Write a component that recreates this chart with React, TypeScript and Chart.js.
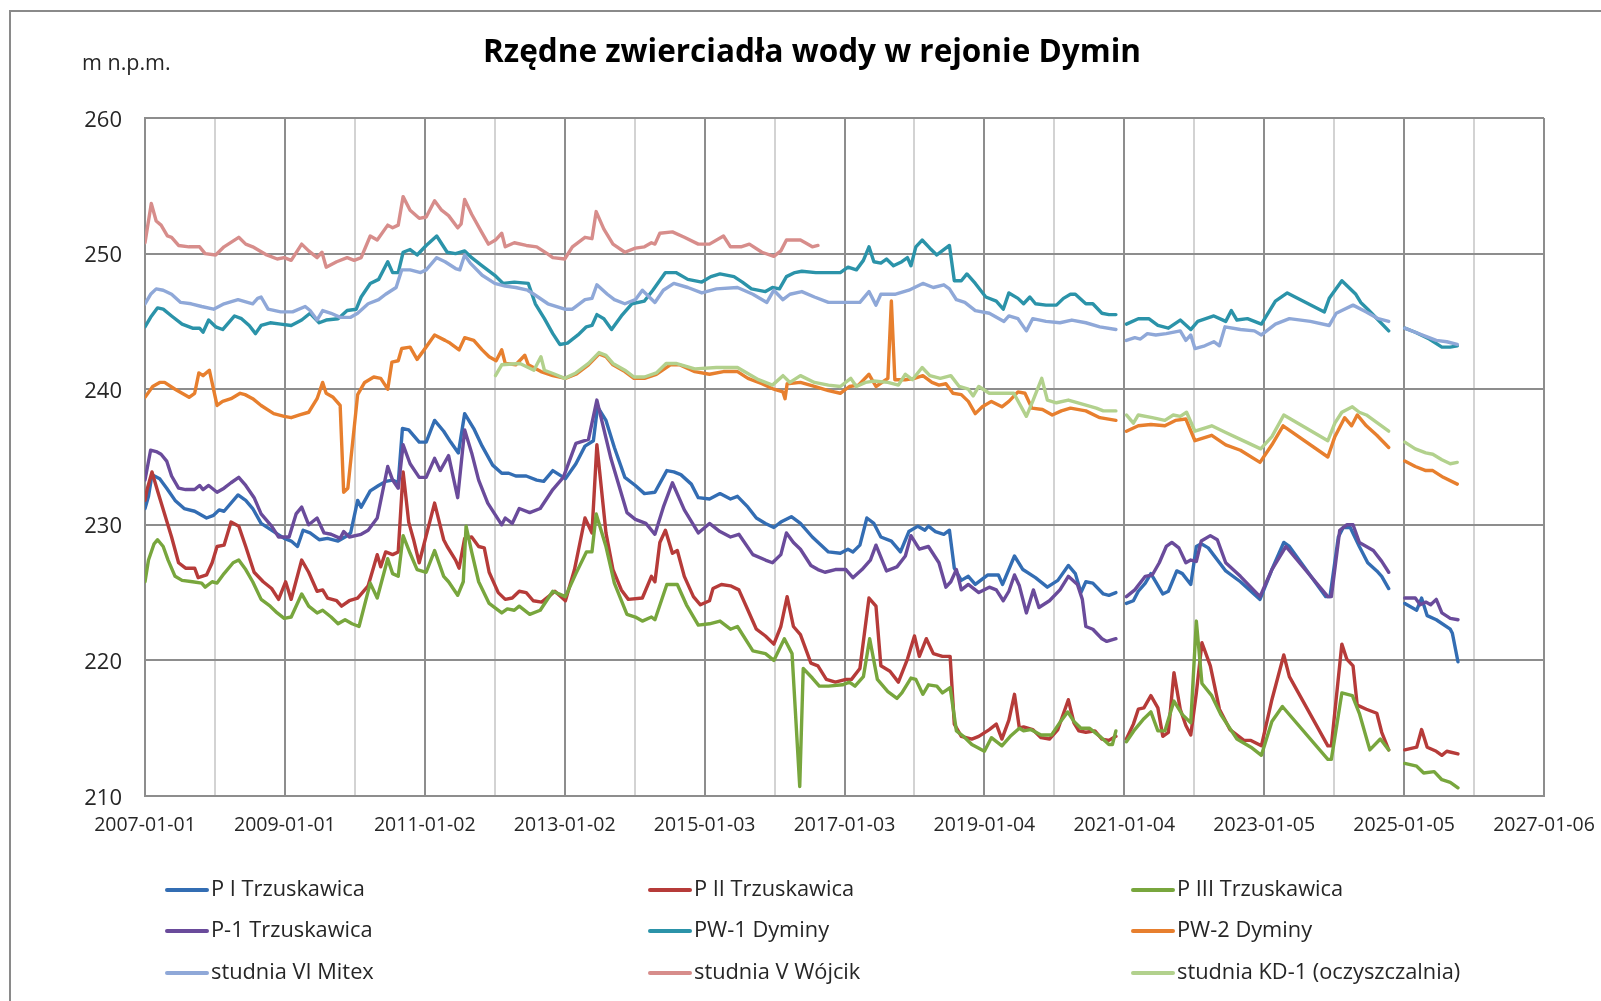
import React, { useEffect, useRef } from 'react';
import { Chart, registerables } from 'chart.js';

Chart.register(...registerables);

const TITLE = 'Rzędne zwierciadła wody w rejonie Dymin';
const Y_UNIT = 'm n.p.m.';
const Y_MIN = 210;
const Y_MAX = 260;
const Y_STEP = 10;
const Y_TICKS = [210, 220, 230, 240, 250, 260];
// x axis: days since 2007-01-01, major every 731 days, minor every 365.5 days
const X_TICK_DAYS = Array.from({ length: 21 }, (_, i) => i * 365.5);

const SERIES_NAMES = [
  'P I Trzuskawica',
  'P II Trzuskawica',
  'P III Trzuskawica',
  'P-1 Trzuskawica',
  'PW-1 Dyminy',
  'PW-2 Dyminy',
  'studnia VI Mitex',
  'studnia V Wójcik',
  'studnia KD-1 (oczyszczalnia)',
];

const SERIES_COLORS = [
  '#336db3',
  '#b63b39',
  '#78a63d',
  '#6a4b9b',
  '#2b93a9',
  '#e77f2e',
  '#8fa8d8',
  '#d78d8b',
  '#b2d18d',
];

// [decimal year, water level m n.p.m.]; null = gap in measurements
const P_I_TRZUSKAWICA: [number, number | null][] = [
  [2007.0, 231.2], [2007.05, 232.1], [2007.1, 233.7], [2007.21, 233.4], [2007.31, 232.7], [2007.43, 231.8],
  [2007.56, 231.2], [2007.71, 231.0], [2007.88, 230.5], [2007.98, 230.7], [2008.06, 231.1], [2008.13, 231.0],
  [2008.33, 232.2], [2008.44, 231.8], [2008.54, 231.2], [2008.66, 230.1], [2008.84, 229.5], [2008.99, 229.0],
  [2009.09, 228.8], [2009.18, 228.4], [2009.26, 229.6], [2009.36, 229.4], [2009.49, 228.9], [2009.61, 229.0],
  [2009.76, 228.8], [2009.86, 229.1], [2009.94, 229.4], [2010.04, 231.8], [2010.09, 231.3], [2010.22, 232.5],
  [2010.34, 232.9], [2010.44, 233.2], [2010.54, 233.3], [2010.62, 233.1], [2010.68, 237.1], [2010.77, 237.0],
  [2010.92, 236.1], [2011.02, 236.1], [2011.14, 237.7], [2011.27, 236.9], [2011.37, 236.1], [2011.48, 235.3],
  [2011.57, 238.2], [2011.7, 237.1], [2011.82, 235.8], [2011.97, 234.4], [2012.1, 233.8], [2012.2, 233.8],
  [2012.3, 233.6], [2012.45, 233.6], [2012.6, 233.3], [2012.7, 233.2], [2012.83, 234.0], [2013.01, 233.4],
  [2013.16, 234.5], [2013.29, 235.8], [2013.41, 236.2], [2013.47, 238.7], [2013.59, 237.7], [2013.71, 235.7],
  [2013.86, 233.5], [2014.01, 232.9], [2014.14, 232.3], [2014.29, 232.4], [2014.46, 234.0], [2014.56, 233.9],
  [2014.66, 233.7], [2014.81, 233.0], [2014.91, 232.0], [2015.07, 231.9], [2015.22, 232.3], [2015.37, 231.9],
  [2015.47, 232.1], [2015.62, 231.3], [2015.74, 230.5], [2015.87, 230.1], [2015.99, 229.8], [2016.09, 230.2],
  [2016.24, 230.6], [2016.37, 230.1], [2016.54, 229.1], [2016.77, 228.0], [2016.94, 227.9], [2017.05, 228.2],
  [2017.12, 228.0], [2017.22, 228.5], [2017.32, 230.5], [2017.42, 230.1], [2017.52, 229.1], [2017.67, 228.8],
  [2017.8, 228.0], [2017.92, 229.5], [2018.05, 229.9], [2018.15, 229.6], [2018.2, 229.9], [2018.3, 229.5],
  [2018.42, 229.3], [2018.5, 229.6], [2018.57, 226.8], [2018.67, 225.9], [2018.77, 226.2], [2018.87, 225.6],
  [2019.05, 226.3], [2019.2, 226.3], [2019.26, 225.6], [2019.43, 227.7], [2019.55, 226.7], [2019.73, 226.1],
  [2019.9, 225.4], [2020.05, 225.9], [2020.2, 227.0], [2020.3, 226.4], [2020.38, 225.0], [2020.45, 225.8],
  [2020.55, 225.7], [2020.7, 224.9], [2020.78, 224.8], [2020.88, 225.0], [2020.95, null],
  [2021.03, 224.2], [2021.13, 224.4], [2021.2, 225.1], [2021.3, 225.7], [2021.38, 226.4], [2021.45, 225.8],
  [2021.55, 224.9], [2021.63, 225.1], [2021.75, 226.6], [2021.83, 226.4], [2021.95, 225.6], [2022.03, 228.4],
  [2022.1, 228.6], [2022.2, 228.3], [2022.45, 226.6], [2022.66, 225.8], [2022.94, 224.5], [2023.11, 226.7],
  [2023.28, 228.7], [2023.36, 228.4], [2023.88, 224.7], [2023.94, 224.7], [2024.06, 229.1], [2024.13, 229.8],
  [2024.23, 229.8], [2024.36, 228.4], [2024.48, 227.2], [2024.61, 226.6], [2024.68, 226.2], [2024.78, 225.3],
  [2024.9, null],
  [2025.01, 224.2], [2025.18, 223.7], [2025.25, 224.6], [2025.33, 223.3], [2025.46, 223.0], [2025.66, 222.3],
  [2025.69, 222.0], [2025.77, 219.9],
];

const P_II_TRZUSKAWICA: [number, number | null][] = [
  [2007.0, 231.8], [2007.03, 232.6], [2007.1, 233.9], [2007.18, 232.5], [2007.28, 230.8], [2007.38, 229.1],
  [2007.48, 227.2], [2007.58, 226.8], [2007.71, 226.8], [2007.76, 226.1], [2007.88, 226.3], [2007.96, 227.2],
  [2008.03, 228.4], [2008.13, 228.5], [2008.23, 230.2], [2008.34, 229.9], [2008.44, 228.4], [2008.56, 226.5],
  [2008.69, 225.8], [2008.81, 225.3], [2008.91, 224.5], [2009.01, 225.8], [2009.09, 224.5], [2009.24, 227.4],
  [2009.34, 226.5], [2009.46, 225.1], [2009.54, 225.2], [2009.61, 224.6], [2009.74, 224.4], [2009.81, 224.0],
  [2009.92, 224.4], [2010.04, 224.6], [2010.19, 225.5], [2010.27, 226.9], [2010.32, 227.8], [2010.37, 226.9],
  [2010.44, 228.0], [2010.54, 227.8], [2010.62, 228.0], [2010.69, 233.9], [2010.77, 230.2], [2010.84, 228.9],
  [2010.92, 227.2], [2010.99, 228.6], [2011.14, 231.6], [2011.27, 228.9], [2011.32, 228.4], [2011.44, 227.4],
  [2011.49, 226.8], [2011.57, 229.0], [2011.67, 229.1], [2011.77, 228.4], [2011.85, 228.3], [2011.92, 226.5],
  [2012.05, 225.0], [2012.15, 224.5], [2012.25, 224.6], [2012.35, 225.1], [2012.45, 225.0], [2012.55, 224.4],
  [2012.67, 224.3], [2012.79, 224.8], [2012.86, 225.1], [2013.01, 224.4], [2013.14, 226.7], [2013.29, 230.5],
  [2013.39, 229.4], [2013.46, 235.9], [2013.59, 229.4], [2013.69, 226.7], [2013.81, 225.2], [2013.91, 224.5],
  [2014.11, 224.6], [2014.24, 226.2], [2014.29, 225.8], [2014.36, 228.7], [2014.44, 229.6], [2014.54, 227.9],
  [2014.61, 228.1], [2014.71, 226.2], [2014.84, 224.7], [2014.94, 224.1], [2015.07, 224.4], [2015.12, 225.3],
  [2015.24, 225.6], [2015.37, 225.5], [2015.49, 225.2], [2015.62, 223.7], [2015.74, 222.3], [2015.87, 221.8],
  [2015.99, 221.2], [2016.09, 222.5], [2016.18, 224.7], [2016.27, 222.5], [2016.37, 221.9], [2016.52, 219.8],
  [2016.62, 219.6], [2016.74, 218.6], [2016.87, 218.4], [2017.02, 218.6], [2017.1, 218.6], [2017.22, 219.4],
  [2017.35, 224.6], [2017.45, 224.0], [2017.52, 219.6], [2017.65, 219.2], [2017.77, 218.4], [2017.9, 220.1],
  [2018.0, 221.8], [2018.07, 220.3], [2018.17, 221.6], [2018.27, 220.5], [2018.4, 220.3], [2018.51, 220.3],
  [2018.57, 215.3], [2018.67, 214.4], [2018.82, 214.2], [2018.92, 214.4], [2019.07, 214.9], [2019.17, 215.3],
  [2019.25, 214.2], [2019.35, 215.6], [2019.43, 217.5], [2019.5, 215.0], [2019.56, 215.1], [2019.69, 214.9],
  [2019.81, 214.3], [2019.93, 214.2], [2020.05, 214.9], [2020.2, 217.1], [2020.28, 215.4], [2020.35, 214.8],
  [2020.45, 214.7], [2020.58, 214.8], [2020.68, 214.2], [2020.78, 214.1], [2020.88, 214.4], [2020.95, null],
  [2021.03, 214.2], [2021.13, 215.3], [2021.2, 216.4], [2021.28, 216.5], [2021.38, 217.4], [2021.48, 216.5],
  [2021.55, 214.4], [2021.63, 214.7], [2021.71, 219.1], [2021.8, 216.4], [2021.88, 215.2], [2021.95, 214.5],
  [2022.03, 217.6], [2022.11, 221.3], [2022.23, 219.6], [2022.36, 216.4], [2022.51, 214.9], [2022.71, 214.1],
  [2022.81, 214.1], [2022.96, 213.7], [2023.11, 217.1], [2023.28, 220.4], [2023.36, 218.8], [2023.91, 213.7],
  [2023.96, 213.7], [2024.11, 221.2], [2024.18, 220.1], [2024.27, 219.6], [2024.33, 216.7], [2024.46, 216.4],
  [2024.61, 216.1], [2024.68, 214.7], [2024.78, 213.4], [2024.9, null],
  [2025.01, 213.4], [2025.18, 213.6], [2025.25, 214.9], [2025.33, 213.6], [2025.46, 213.3], [2025.54, 213.0],
  [2025.61, 213.3], [2025.77, 213.1],
];

const P_III_TRZUSKAWICA: [number, number | null][] = [
  [2007.0, 225.8], [2007.05, 227.4], [2007.13, 228.6], [2007.18, 228.9], [2007.26, 228.4], [2007.33, 227.4],
  [2007.43, 226.2], [2007.53, 225.9], [2007.68, 225.8], [2007.81, 225.7], [2007.86, 225.4], [2007.96, 225.8],
  [2008.03, 225.7], [2008.13, 226.4], [2008.26, 227.2], [2008.34, 227.4], [2008.44, 226.7], [2008.54, 225.8],
  [2008.66, 224.5], [2008.79, 224.0], [2008.89, 223.5], [2008.99, 223.1], [2009.09, 223.2], [2009.24, 224.9],
  [2009.34, 224.0], [2009.46, 223.5], [2009.54, 223.7], [2009.66, 223.2], [2009.76, 222.7], [2009.86, 223.0],
  [2009.96, 222.7], [2010.06, 222.5], [2010.22, 225.7], [2010.32, 224.6], [2010.47, 227.5], [2010.54, 226.4],
  [2010.62, 226.2], [2010.69, 229.2], [2010.79, 227.9], [2010.89, 226.7], [2011.02, 226.5], [2011.14, 228.1],
  [2011.27, 226.2], [2011.34, 225.8], [2011.47, 224.8], [2011.55, 225.8], [2011.59, 229.9], [2011.67, 228.0],
  [2011.77, 225.8], [2011.92, 224.2], [2012.1, 223.5], [2012.18, 223.8], [2012.28, 223.7], [2012.35, 224.0],
  [2012.5, 223.4], [2012.65, 223.7], [2012.83, 225.1], [2013.01, 224.7], [2013.16, 226.4], [2013.31, 228.0],
  [2013.39, 228.0], [2013.45, 230.8], [2013.59, 228.4], [2013.71, 225.7], [2013.89, 223.4], [2014.01, 223.2],
  [2014.11, 222.9], [2014.24, 223.2], [2014.29, 223.0], [2014.46, 225.6], [2014.61, 225.6], [2014.74, 224.1],
  [2014.91, 222.6], [2015.07, 222.7], [2015.22, 222.9], [2015.37, 222.3], [2015.47, 222.5], [2015.69, 220.7],
  [2015.87, 220.5], [2015.99, 220.0], [2016.14, 221.6], [2016.25, 220.5], [2016.36, 210.7], [2016.41, 219.4],
  [2016.54, 218.7], [2016.64, 218.1], [2016.77, 218.1], [2016.97, 218.2], [2017.07, 218.4], [2017.15, 218.1],
  [2017.27, 218.8], [2017.36, 221.6], [2017.47, 218.6], [2017.62, 217.7], [2017.75, 217.2], [2017.82, 217.6],
  [2017.95, 218.7], [2018.02, 218.6], [2018.12, 217.5], [2018.2, 218.2], [2018.32, 218.1], [2018.4, 217.6],
  [2018.51, 218.0], [2018.6, 214.8], [2018.7, 214.4], [2018.82, 213.8], [2019.0, 213.3], [2019.1, 214.3],
  [2019.25, 213.7], [2019.37, 214.4], [2019.5, 215.0], [2019.56, 214.8], [2019.66, 214.9], [2019.81, 214.5],
  [2019.96, 214.5], [2020.09, 215.5], [2020.19, 216.2], [2020.28, 215.5], [2020.38, 215.0], [2020.5, 215.0],
  [2020.65, 214.4], [2020.78, 213.8], [2020.83, 213.8], [2020.88, 214.8], [2020.95, null],
  [2021.03, 214.0], [2021.15, 214.9], [2021.28, 215.7], [2021.38, 216.2], [2021.48, 214.8], [2021.58, 214.8],
  [2021.71, 217.0], [2021.83, 216.0], [2021.95, 215.4], [2022.03, 222.9], [2022.11, 218.3], [2022.25, 217.4],
  [2022.38, 216.0], [2022.61, 214.2], [2022.81, 213.6], [2022.96, 213.0], [2023.11, 215.5], [2023.26, 216.6],
  [2023.91, 212.7], [2023.96, 212.7], [2024.11, 217.6], [2024.26, 217.4], [2024.36, 216.1], [2024.51, 213.4],
  [2024.66, 214.2], [2024.78, 213.4], [2024.9, null],
  [2025.01, 212.4], [2025.18, 212.2], [2025.28, 211.7], [2025.43, 211.8], [2025.54, 211.2], [2025.66, 211.0],
  [2025.77, 210.6],
];

const P_1_TRZUSKAWICA: [number, number | null][] = [
  [2007.0, 233.3], [2007.08, 235.5], [2007.16, 235.4], [2007.23, 235.2], [2007.31, 234.7], [2007.38, 233.6],
  [2007.48, 232.7], [2007.58, 232.6], [2007.71, 232.6], [2007.78, 232.9], [2007.83, 232.6], [2007.91, 232.9],
  [2008.03, 232.4], [2008.13, 232.7], [2008.23, 233.1], [2008.34, 233.5], [2008.44, 232.9], [2008.56, 232.0],
  [2008.66, 230.8], [2008.81, 229.9], [2008.91, 229.1], [2009.06, 229.1], [2009.16, 230.8], [2009.24, 231.3],
  [2009.34, 230.0], [2009.46, 230.5], [2009.56, 229.4], [2009.66, 229.3], [2009.79, 229.0], [2009.84, 229.5],
  [2009.92, 229.1], [2010.09, 229.3], [2010.19, 229.6], [2010.32, 230.5], [2010.47, 234.3], [2010.54, 233.3],
  [2010.62, 232.7], [2010.69, 235.9], [2010.79, 234.5], [2010.92, 233.5], [2011.02, 233.5], [2011.14, 234.9],
  [2011.22, 234.0], [2011.34, 235.1], [2011.47, 232.0], [2011.57, 237.0], [2011.67, 235.3], [2011.77, 233.3],
  [2011.9, 231.6], [2012.1, 230.0], [2012.15, 230.5], [2012.25, 230.1], [2012.35, 231.2], [2012.5, 230.9],
  [2012.65, 231.2], [2012.83, 232.6], [2012.98, 233.5], [2013.16, 236.0], [2013.34, 236.3], [2013.46, 239.2],
  [2013.66, 234.9], [2013.89, 230.9], [2014.01, 230.4], [2014.16, 230.1], [2014.29, 229.3], [2014.41, 231.3],
  [2014.54, 233.1], [2014.71, 231.1], [2014.91, 229.4], [2015.07, 230.1], [2015.22, 229.5], [2015.37, 229.1],
  [2015.49, 229.3], [2015.69, 227.8], [2015.87, 227.4], [2015.97, 227.2], [2016.09, 227.8], [2016.17, 229.4],
  [2016.27, 228.7], [2016.37, 228.2], [2016.52, 227.0], [2016.62, 226.7], [2016.72, 226.5], [2016.87, 226.7],
  [2017.02, 226.7], [2017.12, 226.1], [2017.25, 226.7], [2017.37, 227.4], [2017.45, 228.5], [2017.6, 226.6],
  [2017.75, 226.9], [2017.87, 227.7], [2017.95, 229.2], [2018.07, 228.2], [2018.2, 228.4], [2018.35, 227.2],
  [2018.45, 225.4], [2018.52, 225.8], [2018.6, 226.7], [2018.67, 225.2], [2018.77, 225.6], [2018.92, 225.0],
  [2019.07, 225.4], [2019.17, 225.2], [2019.27, 224.4], [2019.35, 225.1], [2019.43, 226.3], [2019.5, 225.5],
  [2019.6, 223.5], [2019.7, 225.2], [2019.78, 223.9], [2019.93, 224.4], [2020.08, 225.2], [2020.2, 226.2],
  [2020.33, 225.6], [2020.4, 224.5], [2020.45, 222.5], [2020.55, 222.3], [2020.68, 221.6], [2020.75, 221.4],
  [2020.88, 221.6], [2020.95, null],
  [2021.03, 224.7], [2021.15, 225.2], [2021.3, 226.2], [2021.4, 226.3], [2021.5, 227.2], [2021.6, 228.4],
  [2021.68, 228.7], [2021.78, 228.3], [2021.88, 227.2], [2021.95, 227.4], [2022.03, 227.3], [2022.1, 228.8],
  [2022.23, 229.2], [2022.33, 228.9], [2022.45, 227.2], [2022.66, 226.2], [2022.94, 224.7], [2023.11, 226.7],
  [2023.31, 228.4], [2023.91, 224.7], [2023.96, 224.7], [2024.08, 229.6], [2024.18, 230.0], [2024.27, 230.0],
  [2024.36, 228.7], [2024.46, 228.4], [2024.56, 228.1], [2024.68, 227.3], [2024.78, 226.5], [2024.9, null],
  [2025.01, 224.6], [2025.16, 224.6], [2025.23, 224.1], [2025.31, 224.3], [2025.38, 224.1], [2025.46, 224.5],
  [2025.54, 223.5], [2025.66, 223.1], [2025.77, 223.0],
];

const PW_1_DYMINY: [number, number | null][] = [
  [2007.0, 244.6], [2007.08, 245.3], [2007.18, 246.0], [2007.26, 245.9], [2007.38, 245.4], [2007.53, 244.8],
  [2007.68, 244.5], [2007.78, 244.5], [2007.83, 244.2], [2007.91, 245.1], [2008.01, 244.6], [2008.11, 244.4],
  [2008.28, 245.4], [2008.38, 245.2], [2008.49, 244.7], [2008.58, 244.1], [2008.66, 244.7], [2008.79, 244.9],
  [2008.94, 244.8], [2009.09, 244.7], [2009.24, 245.1], [2009.36, 245.6], [2009.49, 244.9], [2009.59, 245.1],
  [2009.76, 245.2], [2009.89, 245.8], [2010.02, 245.9], [2010.09, 246.8], [2010.22, 247.8], [2010.34, 248.1],
  [2010.47, 249.4], [2010.54, 248.6], [2010.62, 248.6], [2010.69, 250.1], [2010.79, 250.3], [2010.89, 249.9],
  [2011.02, 250.6], [2011.17, 251.3], [2011.32, 250.1], [2011.44, 250.0], [2011.57, 250.2], [2011.67, 249.7],
  [2011.82, 249.1], [2012.0, 248.4], [2012.12, 247.8], [2012.28, 247.9], [2012.48, 247.8], [2012.58, 246.3],
  [2012.71, 245.2], [2012.83, 244.1], [2012.93, 243.3], [2013.04, 243.4], [2013.19, 244.0], [2013.31, 244.6],
  [2013.39, 244.7], [2013.46, 245.5], [2013.56, 245.2], [2013.67, 244.4], [2013.81, 245.4], [2013.96, 246.3],
  [2014.14, 246.5], [2014.26, 247.3], [2014.44, 248.6], [2014.59, 248.6], [2014.76, 248.1], [2014.96, 247.9],
  [2015.09, 248.3], [2015.22, 248.5], [2015.42, 248.3], [2015.54, 247.9], [2015.67, 247.4], [2015.87, 247.2],
  [2015.97, 247.5], [2016.07, 247.4], [2016.17, 248.3], [2016.29, 248.6], [2016.39, 248.7], [2016.59, 248.6],
  [2016.79, 248.6], [2016.94, 248.6], [2017.05, 249.0], [2017.17, 248.8], [2017.27, 249.5], [2017.35, 250.5],
  [2017.42, 249.4], [2017.52, 249.3], [2017.6, 249.6], [2017.7, 249.1], [2017.82, 249.4], [2017.9, 249.7],
  [2017.95, 249.1], [2018.02, 250.5], [2018.11, 251.0], [2018.22, 250.4], [2018.32, 249.9], [2018.5, 250.6],
  [2018.57, 248.0], [2018.67, 248.0], [2018.75, 248.5], [2018.87, 247.8], [2019.02, 246.8], [2019.17, 246.5],
  [2019.27, 245.9], [2019.35, 247.1], [2019.48, 246.7], [2019.56, 246.3], [2019.65, 246.8], [2019.73, 246.3],
  [2019.88, 246.2], [2020.03, 246.2], [2020.13, 246.7], [2020.23, 247.0], [2020.3, 247.0], [2020.45, 246.3],
  [2020.55, 246.3], [2020.68, 245.6], [2020.78, 245.5], [2020.88, 245.5], [2020.95, null],
  [2021.03, 244.8], [2021.2, 245.2], [2021.35, 245.2], [2021.48, 244.7], [2021.63, 244.5], [2021.8, 245.1],
  [2021.95, 244.4], [2022.05, 245.0], [2022.28, 245.4], [2022.45, 245.0], [2022.53, 245.8], [2022.61, 245.1],
  [2022.76, 245.2], [2022.96, 244.8], [2023.16, 246.5], [2023.33, 247.1], [2023.86, 245.7], [2023.93, 246.7],
  [2024.11, 248.0], [2024.31, 247.0], [2024.38, 246.4], [2024.48, 245.9], [2024.63, 245.1], [2024.78, 244.3],
  [2024.9, null],
  [2025.01, 244.5], [2025.16, 244.2], [2025.36, 243.7], [2025.54, 243.1], [2025.66, 243.1], [2025.76, 243.2],
];

const PW_2_DYMINY: [number, number | null][] = [
  [2007.0, 239.4], [2007.11, 240.2], [2007.21, 240.5], [2007.28, 240.5], [2007.43, 240.0], [2007.53, 239.7],
  [2007.63, 239.4], [2007.71, 239.7], [2007.77, 241.2], [2007.83, 241.0], [2007.92, 241.4], [2008.03, 238.8],
  [2008.11, 239.1], [2008.23, 239.3], [2008.36, 239.7], [2008.43, 239.6], [2008.54, 239.3], [2008.66, 238.8],
  [2008.84, 238.2], [2008.99, 238.0], [2009.09, 237.9], [2009.21, 238.1], [2009.34, 238.3], [2009.46, 239.3],
  [2009.54, 240.5], [2009.59, 239.7], [2009.69, 239.4], [2009.79, 238.8], [2009.84, 232.4], [2009.9, 232.7],
  [2010.04, 239.6], [2010.14, 240.5], [2010.27, 240.9], [2010.37, 240.8], [2010.47, 240.0], [2010.53, 242.0],
  [2010.62, 242.1], [2010.67, 243.0], [2010.79, 243.1], [2010.89, 242.2], [2010.99, 242.9], [2011.14, 244.0],
  [2011.29, 243.6], [2011.36, 243.4], [2011.49, 242.9], [2011.57, 243.8], [2011.7, 243.6], [2011.82, 242.9],
  [2011.92, 242.4], [2012.02, 242.1], [2012.1, 242.9], [2012.15, 241.9], [2012.3, 241.8], [2012.43, 242.5],
  [2012.48, 241.8], [2012.66, 241.3], [2012.83, 241.0], [2013.01, 240.8], [2013.16, 241.1], [2013.34, 241.8],
  [2013.49, 242.6], [2013.59, 242.4], [2013.69, 241.8], [2013.86, 241.3], [2013.99, 240.8], [2014.14, 240.8],
  [2014.31, 241.1], [2014.51, 241.8], [2014.64, 241.8], [2014.86, 241.3], [2015.07, 241.1], [2015.27, 241.3],
  [2015.47, 241.3], [2015.62, 240.8], [2015.82, 240.4], [2015.99, 240.0], [2016.12, 239.8], [2016.15, 239.3],
  [2016.18, 240.4], [2016.37, 240.5], [2016.57, 240.2], [2016.77, 239.9], [2016.94, 239.7], [2017.07, 240.2],
  [2017.2, 240.3], [2017.35, 241.1], [2017.45, 240.2], [2017.62, 240.8], [2017.67, 246.5], [2017.72, 240.7],
  [2017.87, 240.7], [2018.0, 240.8], [2018.12, 241.0], [2018.25, 240.5], [2018.35, 240.3], [2018.45, 240.4],
  [2018.55, 239.7], [2018.67, 239.6], [2018.77, 239.1], [2018.87, 238.2], [2018.97, 238.7], [2019.1, 239.1],
  [2019.25, 238.7], [2019.35, 239.1], [2019.48, 239.8], [2019.58, 239.7], [2019.68, 238.6], [2019.83, 238.5],
  [2019.97, 238.1], [2020.1, 238.4], [2020.23, 238.6], [2020.45, 238.4], [2020.65, 237.9], [2020.88, 237.7],
  [2020.95, null],
  [2021.03, 236.9], [2021.2, 237.3], [2021.38, 237.4], [2021.58, 237.3], [2021.73, 237.7], [2021.88, 237.8],
  [2022.01, 236.2], [2022.25, 236.6], [2022.45, 235.9], [2022.66, 235.5], [2022.94, 234.6], [2023.11, 235.9],
  [2023.27, 237.3], [2023.91, 235.0], [2024.01, 236.5], [2024.15, 237.9], [2024.25, 237.3], [2024.33, 238.1],
  [2024.46, 237.3], [2024.61, 236.6], [2024.78, 235.7], [2024.9, null],
  [2025.01, 234.7], [2025.16, 234.3], [2025.31, 234.0], [2025.41, 234.0], [2025.56, 233.5], [2025.76, 233.0],
];

const STUDNIA_VI_MITEX: [number, number | null][] = [
  [2007.0, 246.3], [2007.08, 247.0], [2007.16, 247.4], [2007.26, 247.3], [2007.38, 247.0], [2007.51, 246.4],
  [2007.66, 246.3], [2007.81, 246.1], [2007.98, 245.9], [2008.13, 246.3], [2008.33, 246.6], [2008.54, 246.3],
  [2008.61, 246.7], [2008.66, 246.8], [2008.76, 245.9], [2008.94, 245.7], [2009.11, 245.7], [2009.29, 246.1],
  [2009.36, 245.8], [2009.46, 245.1], [2009.54, 245.8], [2009.66, 245.6], [2009.79, 245.3], [2009.94, 245.3],
  [2010.04, 245.6], [2010.19, 246.3], [2010.34, 246.6], [2010.44, 247.0], [2010.59, 247.5], [2010.67, 248.8],
  [2010.79, 248.8], [2010.94, 248.6], [2011.02, 248.8], [2011.17, 249.7], [2011.29, 249.4], [2011.44, 248.9],
  [2011.5, 248.8], [2011.57, 249.9], [2011.65, 249.3], [2011.82, 248.4], [2012.0, 247.8], [2012.15, 247.6],
  [2012.3, 247.5], [2012.47, 247.3], [2012.56, 247.0], [2012.76, 246.3], [2013.0, 245.9], [2013.11, 245.9],
  [2013.29, 246.6], [2013.39, 246.7], [2013.46, 247.7], [2013.61, 247.0], [2013.71, 246.6], [2013.86, 246.3],
  [2014.01, 246.6], [2014.11, 247.3], [2014.29, 246.4], [2014.41, 247.3], [2014.56, 247.8], [2014.76, 247.5],
  [2014.96, 247.1], [2015.17, 247.4], [2015.47, 247.5], [2015.69, 247.0], [2015.89, 246.4], [2015.99, 247.3],
  [2016.12, 246.6], [2016.22, 247.0], [2016.39, 247.2], [2016.57, 246.8], [2016.77, 246.4], [2017.02, 246.4],
  [2017.22, 246.4], [2017.35, 247.2], [2017.45, 246.2], [2017.52, 247.0], [2017.72, 247.0], [2017.92, 247.3],
  [2018.12, 247.8], [2018.27, 247.5], [2018.42, 247.7], [2018.5, 247.4], [2018.6, 246.6], [2018.72, 246.4],
  [2018.87, 245.8], [2019.07, 245.6], [2019.28, 245.0], [2019.35, 245.4], [2019.48, 245.2], [2019.6, 244.3],
  [2019.69, 245.2], [2019.88, 245.0], [2020.08, 244.9], [2020.25, 245.1], [2020.45, 244.9], [2020.65, 244.6],
  [2020.88, 244.4], [2020.95, null],
  [2021.03, 243.6], [2021.15, 243.8], [2021.23, 243.7], [2021.33, 244.1], [2021.45, 244.0], [2021.6, 244.1],
  [2021.8, 244.3], [2021.88, 243.6], [2021.95, 244.0], [2022.01, 243.0], [2022.15, 243.2], [2022.28, 243.5],
  [2022.36, 243.2], [2022.44, 244.6], [2022.66, 244.4], [2022.86, 244.3], [2022.96, 244.0], [2023.16, 244.8],
  [2023.36, 245.2], [2023.66, 245.0], [2023.93, 244.7], [2024.03, 245.6], [2024.11, 245.8], [2024.27, 246.2],
  [2024.46, 245.7], [2024.63, 245.2], [2024.78, 245.0], [2024.9, null],
  [2025.01, 244.5], [2025.16, 244.2], [2025.31, 243.9], [2025.46, 243.6], [2025.61, 243.5], [2025.76, 243.3],
];

const STUDNIA_V_WOJCIK: [number, number | null][] = [
  [2007.0, 250.8], [2007.09, 253.7], [2007.16, 252.4], [2007.23, 252.1], [2007.32, 251.3], [2007.38, 251.2],
  [2007.48, 250.6], [2007.63, 250.5], [2007.78, 250.5], [2007.86, 250.0], [2008.01, 249.9], [2008.13, 250.5],
  [2008.34, 251.2], [2008.44, 250.7], [2008.54, 250.5], [2008.74, 249.9], [2008.89, 249.6], [2008.99, 249.7],
  [2009.09, 249.5], [2009.24, 250.7], [2009.34, 250.2], [2009.46, 249.7], [2009.53, 250.1], [2009.59, 249.0],
  [2009.74, 249.4], [2009.89, 249.7], [2009.99, 249.5], [2010.09, 249.7], [2010.22, 251.3], [2010.32, 251.0],
  [2010.47, 252.1], [2010.54, 251.9], [2010.62, 252.1], [2010.69, 254.2], [2010.79, 253.2], [2010.92, 252.6],
  [2011.02, 252.7], [2011.14, 253.9], [2011.24, 253.2], [2011.34, 252.8], [2011.47, 251.9], [2011.52, 252.2],
  [2011.57, 254.0], [2011.67, 252.9], [2011.8, 251.7], [2011.91, 250.7], [2012.01, 251.0], [2012.1, 251.5],
  [2012.15, 250.5], [2012.28, 250.8], [2012.45, 250.6], [2012.6, 250.5], [2012.75, 250.0], [2012.83, 249.7],
  [2013.0, 249.6], [2013.11, 250.5], [2013.29, 251.2], [2013.39, 251.1], [2013.45, 253.1], [2013.56, 251.8],
  [2013.69, 250.7], [2013.86, 250.1], [2014.01, 250.4], [2014.14, 250.5], [2014.24, 250.8], [2014.29, 250.7],
  [2014.36, 251.5], [2014.54, 251.6], [2014.71, 251.2], [2014.91, 250.7], [2015.07, 250.7], [2015.27, 251.3],
  [2015.37, 250.5], [2015.52, 250.5], [2015.64, 250.7], [2015.82, 250.1], [2015.99, 249.8], [2016.09, 250.2],
  [2016.17, 251.0], [2016.37, 251.0], [2016.44, 250.8], [2016.54, 250.5], [2016.62, 250.6],
];

const STUDNIA_KD_1: [number, number | null][] = [
  [2012.01, 241.0], [2012.1, 241.8], [2012.36, 241.9], [2012.56, 241.4], [2012.66, 242.4], [2012.71, 241.4],
  [2012.86, 241.1], [2013.0, 240.8], [2013.16, 241.2], [2013.34, 241.9], [2013.49, 242.7], [2013.59, 242.5],
  [2013.69, 241.9], [2013.86, 241.4], [2013.99, 240.9], [2014.14, 240.9], [2014.31, 241.2], [2014.45, 241.9],
  [2014.59, 241.9], [2014.86, 241.5], [2015.17, 241.6], [2015.47, 241.6], [2015.77, 240.7], [2015.97, 240.3],
  [2016.12, 241.0], [2016.22, 240.5], [2016.37, 241.0], [2016.57, 240.5], [2016.77, 240.3], [2016.94, 240.2],
  [2017.09, 240.8], [2017.17, 240.2], [2017.3, 240.5], [2017.42, 240.6], [2017.62, 240.5], [2017.77, 240.3],
  [2017.87, 241.1], [2017.97, 240.7], [2018.11, 241.6], [2018.22, 241.0], [2018.37, 240.8], [2018.52, 241.0],
  [2018.64, 240.2], [2018.77, 240.0], [2018.84, 239.5], [2018.92, 240.2], [2019.07, 239.7], [2019.27, 239.7],
  [2019.42, 239.7], [2019.6, 238.0], [2019.69, 239.1], [2019.82, 240.8], [2019.9, 239.2], [2020.03, 239.0],
  [2020.2, 239.2], [2020.4, 238.9], [2020.6, 238.6], [2020.7, 238.4], [2020.88, 238.4], [2020.95, null],
  [2021.03, 238.1], [2021.13, 237.5], [2021.2, 238.1], [2021.4, 237.9], [2021.58, 237.7], [2021.7, 238.1],
  [2021.8, 238.0], [2021.89, 238.3], [2022.01, 236.9], [2022.25, 237.3], [2022.45, 236.8], [2022.66, 236.3],
  [2022.95, 235.6], [2023.11, 236.5], [2023.28, 238.1], [2023.91, 236.2], [2024.01, 237.5], [2024.11, 238.3],
  [2024.26, 238.7], [2024.36, 238.3], [2024.46, 238.1], [2024.78, 236.9], [2024.9, null],
  [2025.01, 236.1], [2025.16, 235.6], [2025.31, 235.3], [2025.41, 235.2], [2025.54, 234.8], [2025.66, 234.5],
  [2025.76, 234.6],
];

const SERIES_DATA = [
  P_I_TRZUSKAWICA,
  P_II_TRZUSKAWICA,
  P_III_TRZUSKAWICA,
  P_1_TRZUSKAWICA,
  PW_1_DYMINY,
  PW_2_DYMINY,
  STUDNIA_VI_MITEX,
  STUDNIA_V_WOJCIK,
  STUDNIA_KD_1,
];

const FONT = '"Open Sans", "Noto Sans", sans-serif';
const GRID_DARK = '#8d8d8d';
const GRID_LIGHT = '#d3d3d3';
const TEXT_COLOR = '#262626';

function yearToDays(y: number) {
  return (y - 2007) * 365.5;
}

function formatDay(days: number) {
  const d = new Date(Date.UTC(2007, 0, 1) + Math.round(days) * 86400000);
  return d.toISOString().slice(0, 10);
}

const decorPlugin = {
  id: 'decor',
  beforeDraw(chart: any) {
    const { ctx, width, height } = chart;
    ctx.save();
    ctx.fillStyle = '#ffffff';
    ctx.fillRect(0, 0, width, height);
    ctx.restore();
  },
  afterDraw(chart: any) {
    const ctx = chart.ctx as CanvasRenderingContext2D;
    const yScale = chart.scales.y;
    ctx.save();
    // outer frame
    ctx.strokeStyle = '#8a8a8a';
    ctx.lineWidth = 2;
    ctx.strokeRect(10, 11, 1800, 1200);
    // title
    ctx.fillStyle = '#000000';
    ctx.font = `bold 31.5px ${FONT}`;
    ctx.textAlign = 'center';
    ctx.textBaseline = 'alphabetic';
    ctx.fillText(TITLE, 812, 62);
    // unit label
    ctx.font = `21.5px ${FONT}`;
    ctx.textAlign = 'left';
    ctx.fillStyle = TEXT_COLOR;
    ctx.fillText(Y_UNIT, 82, 70);
    // y tick labels (positioned with the y scale)
    ctx.font = `22px ${FONT}`;
    ctx.textAlign = 'right';
    ctx.textBaseline = 'alphabetic';
    Y_TICKS.forEach((v) => {
      const py = yScale.getPixelForValue(v);
      ctx.fillText(String(v), yScale.right - 23, py + 8.5);
    });
    // legend 3 x 3
    const colX = [165, 648, 1131];
    const rowY = [890, 931, 973];
    ctx.font = `21.8px ${FONT}`;
    ctx.textBaseline = 'middle';
    ctx.textAlign = 'left';
    SERIES_NAMES.forEach((name, i) => {
      const cx = colX[i % 3];
      const cy = rowY[Math.floor(i / 3)];
      ctx.strokeStyle = SERIES_COLORS[i];
      ctx.lineWidth = 4;
      ctx.lineCap = 'round';
      ctx.beginPath();
      ctx.moveTo(cx + 2, cy);
      ctx.lineTo(cx + 42, cy);
      ctx.stroke();
      ctx.fillStyle = TEXT_COLOR;
      ctx.fillText(name, cx + 46, cy);
    });
    ctx.restore();
  },
};

export default function App() {
  const canvasRef = useRef<HTMLCanvasElement | null>(null);

  useEffect(() => {
    const canvas = canvasRef.current;
    if (!canvas) return;
    const n = SERIES_DATA.length;
    const chart = new Chart(canvas, {
      type: 'line',
      data: {
        datasets: SERIES_DATA.map((series, i) => ({
          label: SERIES_NAMES[i],
          data: series.map(([yr, v]) => ({ x: yearToDays(yr), y: v })),
          borderColor: SERIES_COLORS[i],
          backgroundColor: SERIES_COLORS[i],
          borderWidth: 3.4,
          pointRadius: 0,
          pointHoverRadius: 0,
          tension: 0,
          spanGaps: false,
          borderJoinStyle: 'round',
          borderCapStyle: 'round',
          order: n - 1 - i,
        })),
      },
      options: {
        responsive: false,
        devicePixelRatio: 1,
        animation: false,
        layout: { padding: { top: 118, right: 57, bottom: 145, left: 0 } },
        plugins: {
          legend: { display: false },
          title: { display: false },
          tooltip: { enabled: false },
        },
        scales: {
          x: {
            type: 'linear',
            min: 0,
            max: X_TICK_DAYS[X_TICK_DAYS.length - 1],
            afterBuildTicks: (axis: any) => {
              axis.ticks = X_TICK_DAYS.map((v) => ({ value: v }));
            },
            afterFit: (axis: any) => {
              axis.height = 60;
              axis.paddingLeft = 0;
              axis.paddingRight = 0;
            },
            ticks: {
              autoSkip: false,
              maxRotation: 0,
              minRotation: 0,
              padding: 18,
              color: TEXT_COLOR,
              font: { family: FONT, size: 19.5 },
              callback: (value: any, index: number) => (index % 2 === 0 ? formatDay(Number(value)) : ''),
            },
            grid: {
              color: (c: any) => (c.index % 2 === 0 ? GRID_DARK : GRID_LIGHT),
              lineWidth: 2,
              drawTicks: false,
            },
            border: { color: GRID_DARK, width: 2 },
          },
          y: {
            min: Y_MIN,
            max: Y_MAX,
            afterFit: (axis: any) => {
              axis.width = 145;
              axis.paddingTop = 0;
              axis.paddingBottom = 0;
            },
            ticks: {
              stepSize: Y_STEP,
              display: false,
            },
            grid: { color: GRID_DARK, lineWidth: 2, drawTicks: false },
            border: { color: GRID_DARK, width: 2 },
          },
        },
      },
      plugins: [decorPlugin],
    } as any);
    return () => chart.destroy();
  }, []);

  return (
    <div style={{ position: 'absolute', left: 0, top: 0, width: 1601, height: 1001, background: '#fff', overflow: 'hidden' }}>
      <canvas ref={canvasRef} width={1601} height={1001} style={{ display: 'block' }} />
    </div>
  );
}
